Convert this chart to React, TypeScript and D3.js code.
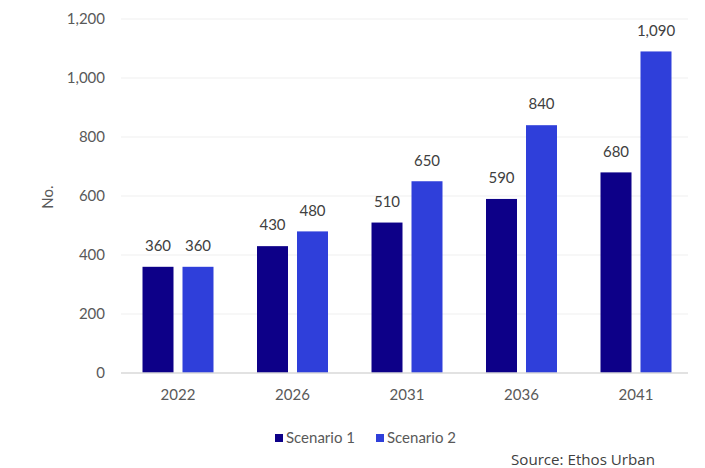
import React from "react";
import * as d3 from "d3";

const categories = ["2022", "2026", "2031", "2036", "2041"];
const seriesNames = ["Scenario 1", "Scenario 2"];
const scenario1 = [360, 430, 510, 590, 680];
const scenario2 = [360, 480, 650, 840, 1090];
const yTicks = [0, 200, 400, 600, 800, 1000, 1200];
const colors = ["#0D0088", "#2F3FDA"];

const W = 705;
const H = 468;

export default function App() {
  const x = d3
    .scaleBand<string>()
    .domain(categories)
    .range([120.75, 693.25])
    .paddingInner(0.38)
    .paddingOuter(0.19);
  const xs = d3.scaleBand<string>().domain(seriesNames).range([0, x.bandwidth()]).paddingInner(0.225);
  const y = d3.scaleLinear().domain([0, 1200]).range([373, 19]);
  const fmt = d3.format(",");
  const series = [scenario1, scenario2];
  const font = "Lato, 'Liberation Sans', sans-serif";

  return (
    <svg width={W} height={H} style={{ position: "absolute", left: 0, top: 0, background: "#fff" }}>
      {yTicks.map((t) => (
        <g key={t}>
          {t !== 0 && (
            <line x1={121} x2={688} y1={y(t)} y2={y(t)} stroke="#EFEFEF" strokeWidth={1} />
          )}
          <text x={105} y={y(t)} dy="0.35em" textAnchor="end" fontSize={15} fill="#595959" fontFamily={font}>
            {fmt(t)}
          </text>
        </g>
      ))}
      <text
        transform={`translate(53,${197}) rotate(-90)`}
        textAnchor="middle"
        fontSize={15}
        fill="#595959"
        fontFamily={font}
      >
        No.
      </text>
      {categories.map((c, i) => (
        <g key={c}>
          {series.map((s, j) => {
            const bx = (x(c) as number) + (xs(seriesNames[j]) as number);
            return (
              <g key={j}>
                <rect
                  x={bx}
                  y={y(s[i])}
                  width={xs.bandwidth()}
                  height={y(0) - y(s[i])}
                  fill={colors[j]}
                />
                <text
                  x={bx + xs.bandwidth() / 2}
                  y={y(s[i]) - 21}
                  dy="0.35em"
                  textAnchor="middle"
                  fontSize={15}
                  fill="#404040"
                  fontFamily={font}
                >
                  {fmt(s[i])}
                </text>
              </g>
            );
          })}
          <text
            x={(x(c) as number) + x.bandwidth() / 2}
            y={395}
            dy="0.35em"
            textAnchor="middle"
            fontSize={15}
            fill="#595959"
            fontFamily={font}
          >
            {c}
          </text>
        </g>
      ))}
      <line x1={121} x2={688} y1={y(0)} y2={y(0)} stroke="#D9D9D9" strokeWidth={1.5} />
      {seriesNames.map((n, j) => (
        <g key={n} transform={`translate(${275 + j * 101},438)`}>
          <rect x={0} y={-4} width={8} height={8} fill={colors[j]} />
          <text x={11} y={0} dy="0.35em" fontSize={15} fill="#595959" fontFamily={font}>
            {n}
          </text>
        </g>
      ))}
      <text x={511} y={465} fontSize={14} fill="#404040" fontFamily="'Open Sans', sans-serif" textLength={144} lengthAdjust="spacingAndGlyphs">
        Source: Ethos Urban
      </text>
    </svg>
  );
}
